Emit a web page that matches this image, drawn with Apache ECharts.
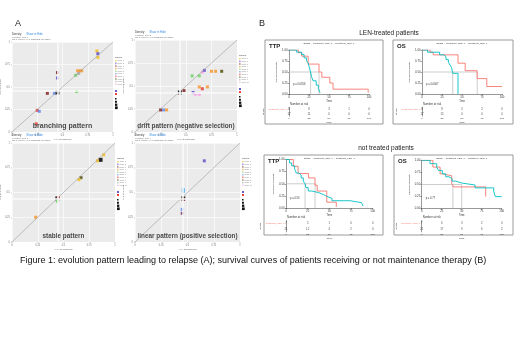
<!DOCTYPE html>
<html>
<head>
<meta charset="utf-8">
<script src="https://cdn.jsdelivr.net/npm/echarts@6/dist/echarts.min.js"></script>
<style>
  html, body { margin: 0; padding: 0; background: #fff; }
  #chart { width: 520px; height: 347px; }
</style>
</head>
<body>
<div id="chart"></div>
<script>
// ---- panel A : clone fraction at diagnosis (x) vs relapse (y) ----
var branchX = [0.84, 0.85, 0.85, 0.45, 0.45, 0.65, 0.67, 0.69, 0.63, 0.66, 0.35, 0.42, 0.45, 0.64, 0.25, 0.27, 0.24];
var branchY = [0.90, 0.87, 0.83, 0.66, 0.60, 0.68, 0.68, 0.68, 0.63, 0.65, 0.43, 0.43, 0.44, 0.45, 0.24, 0.23, 0.09];
var branchClone = ['c1', 'c2', 'c1', 'c3', 'c2', 'c4', 'c4', 'c4', 'c5', 'c9', 'c3', 'c6', 'c0', 'c5', 'c7', 'c6', 'c7'];

var driftX = [0.85, 0.75, 0.79, 0.66, 0.68, 0.63, 0.56, 0.44, 0.48, 0.57, 0.63, 0.71, 0.66, 0.63, 0.59, 0.25, 0.28, 0.31];
var driftY = [0.66, 0.66, 0.66, 0.65, 0.67, 0.61, 0.61, 0.43, 0.45, 0.43, 0.49, 0.49, 0.47, 0.41, 0.41, 0.24, 0.24, 0.24];
var driftClone = ['c8', 'c4', 'c4', 'c10', 'c2', 'c5', 'c5', 'c0', 'c3', 'c2', 'c4', 'c4', 'c7', 'c10', 'c10', 'c3', 'c6', 'c4'];

var stableX = [0.89, 0.86, 0.83, 0.67, 0.65, 0.44, 0.45, 0.44, 0.23];
var stableY = [0.88, 0.83, 0.82, 0.65, 0.63, 0.44, 0.45, 0.41, 0.25];
var stableClone = ['c1', 'c0', 'c1', 'c8', 'c1', 'c0', 'c7', 'c5', 'c4'];

var linearX = [0.66, 0.46, 0.46, 0.46, 0.46, 0.45, 0.45];
var linearY = [0.82, 0.53, 0.51, 0.44, 0.43, 0.33, 0.29];
var linearClone = ['c2', 'c11', 'c11', 'c0', 'c3', 'c6', 'c12'];

var refX = [0.45, 0.44, 0.44, 0.45];
var refY = [0.46, 0.43, 0.44, 0.44];
var patternNames = ['branching pattern', 'drift pattern (negative selection)', 'stable pattern', 'linear pattern (positive selection)'];

// ---- panel B : Kaplan-Meier curves (time, survival) ----
var timeTicks = [0, 25, 50, 75, 100];
var strataNames = ['treatment_LEN=0', 'treatment_LEN=1'];

var ttpLenT0 = [0, 11.7, 15.8, 24, 37.5, 41, 51, 55, 99];
var ttpLenS0 = [1, 0.94, 0.86, 0.68, 0.5, 0.38, 0.25, 0.11, 0.03];
var ttpLenT1 = [0, 9.6, 15.8, 18.8, 22, 24, 25.4, 27, 28, 30, 34, 36.7, 38.8];
var ttpLenS1 = [1, 0.95, 0.9, 0.82, 0.75, 0.7, 0.6, 0.5, 0.4, 0.3, 0.2, 0.12, 0.03];
var ttpLenMed = [27, 37.5];
var ttpLenRisk0 = [8, 8, 3, 1, 0];
var ttpLenRisk1 = [17, 11, 0, 0, 0];

var osLenT0 = [0, 10, 14, 45, 54, 69, 81, 100];
var osLenS0 = [1, 0.95, 0.89, 0.7, 0.53, 0.35, 0.17, 0.17];
var osLenT1 = [0, 7, 22, 27, 30, 33, 35, 37, 38.4, 45];
var osLenS1 = [1, 0.95, 0.89, 0.85, 0.78, 0.72, 0.66, 0.6, 0.47, 0];
var osLenMed = [38.4, 69];
var osLenRisk0 = [8, 8, 5, 2, 0];
var osLenRisk1 = [17, 15, 0, 0, 0];

var ttpNtT0 = [0, 8.5, 14, 26, 33.5, 36, 47, 58];
var ttpNtS0 = [1, 0.86, 0.71, 0.62, 0.47, 0.35, 0.12, 0.02];
var ttpNtT1 = [0, 4, 6.5, 10, 12, 15, 17.5, 20, 22, 23, 25.6, 29.6, 37, 43, 47, 53, 74, 87, 89];
var ttpNtS1 = [1, 0.93, 0.87, 0.8, 0.72, 0.68, 0.62, 0.55, 0.5, 0.42, 0.35, 0.32, 0.28, 0.24, 0.2, 0.15, 0.11, 0.07, 0.04];
var ttpNtMed = [22, 33.5];
var ttpNtRisk0 = [7, 5, 1, 0, 0];
var ttpNtRisk1 = [21, 12, 4, 2, 0];

var osNtT0 = [0, 14, 23, 26, 37.5, 39.6, 80];
var osNtS0 = [1, 0.86, 0.72, 0.68, 0.52, 0.45, 0.25];
var osNtT1 = [0, 10.4, 18.8, 21, 25.8, 30, 34, 38, 42.5, 50, 66.7, 90, 92, 100];
var osNtS1 = [1, 0.93, 0.86, 0.79, 0.72, 0.66, 0.62, 0.57, 0.53, 0.49, 0.43, 0.36, 0.25, 0.25];
var osNtMed = [39, 50];
var osNtRisk0 = [7, 6, 3, 2, 0];
var osNtRisk1 = [21, 17, 9, 6, 2];

var pValues = ['p = 0.0356', 'p = 0.0067', 'p = 0.59', 'p = 0.77'];

var cloneColors = {
  c0: '#111111', c1: '#F2C12E', c2: '#6A5ACD', c3: '#8B2E2E', c4: '#F59C3C', c5: '#76D66F',
  c6: '#6C8EE6', c7: '#E8453C', c8: '#5A5A1E', c9: '#B0B0B0', c10: '#F4A6E6', c11: '#4FB3F5', c12: '#7D3C6B'
};
var RED = '#F8766D', CYAN = '#00BFC4';
var FONT = 'Liberation Sans';

var chart = echarts.init(document.getElementById('chart'), null, { renderer: 'canvas' });

var grids = [], xAxes = [], yAxes = [], series = [], graphics = [];
var tiny = 2.8;

// centred text helper (x,y = centre point)
function ctext(x, y, text, size, extra) {
  return { type: 'text', x: x, y: y, silent: true, z: 100,
    style: Object.assign({ text: text, fontSize: size, fill: '#222', fontFamily: FONT, align: 'center', verticalAlign: 'middle' }, extra || {}) };
}
function ltext(x, y, text, size, extra) {
  return { type: 'text', x: x, y: y, silent: true, z: 100,
    style: Object.assign({ text: text, fontSize: size, fill: '#333', fontFamily: FONT, align: 'left', verticalAlign: 'middle' }, extra || {}) };
}

// scatter panels
var scatterBoxes = [
  { left: 12, top: 42, width: 101, height: 90, label: 7 },
  { left: 135, top: 40, width: 102, height: 92, label: 6.4 },
  { left: 12, top: 143, width: 103, height: 99, label: 6.4 },
  { left: 135, top: 143, width: 105, height: 99, label: 6.4 }
];
var scatterData = [[branchX, branchY, branchClone], [driftX, driftY, driftClone], [stableX, stableY, stableClone], [linearX, linearY, linearClone]];

scatterBoxes.forEach(function (b, i) {
  var gi = grids.length;
  grids.push({ left: b.left, top: b.top, width: b.width, height: b.height, show: true,
    backgroundColor: '#EBEBEB', borderWidth: 0, outerBoundsMode: 'none' });
  var ax = {
    gridIndex: gi, type: 'value', min: 0, max: 1, interval: 0.25,
    axisLine: { show: false }, axisTick: { show: true, length: 1, lineStyle: { color: '#777', width: 0.4 } },
    axisLabel: { fontSize: 2.6, color: '#777', margin: 2 },
    splitLine: { show: true, lineStyle: { color: '#fff', width: 0.6 } }
  };
  xAxes.push(Object.assign({}, ax, { name: 'VAF at diagnosis', nameLocation: 'middle', nameGap: 5, nameTextStyle: { fontSize: 2.4, color: '#666' } }));
  yAxes.push(Object.assign({}, ax, { name: 'VAF at relapse', nameLocation: 'middle', nameGap: 6, nameTextStyle: { fontSize: 2.4, color: '#666' } }));

  series.push({
    type: 'line', xAxisIndex: gi, yAxisIndex: gi, data: [[0, 0], [1, 1]], symbol: 'none', silent: true,
    lineStyle: { color: '#9a9a9a', width: 0.6 },
    markLine: { silent: true, symbol: 'none', label: { show: false },
      lineStyle: { color: '#fafafa', width: 1.6, type: 'solid' },
      data: [{ xAxis: refX[i] }, { yAxis: refY[i] }] }
  });
  var xs = scatterData[i][0], ys = scatterData[i][1], cl = scatterData[i][2];
  series.push({
    type: 'scatter', xAxisIndex: gi, yAxisIndex: gi, symbol: 'rect',
    symbolSize: function (v, p) { return cl[p.dataIndex] === 'c0' ? 4 : 3; },
    data: xs.map(function (x, k) {
      return { value: [x, ys[k]], itemStyle: { color: cloneColors[cl[k]], opacity: 0.9 } };
    })
  });

  // pattern caption
  graphics.push(ctext(b.left + b.width / 2, b.top + b.height - 6, patternNames[i], b.label,
    { fontWeight: 'bold', fill: '#4a4a4a' }));
  // header lines
  graphics.push(ltext(b.left, b.top - 8, '{a|Density}      {b|Show in Hide}', 3,
    { rich: { a: { fontSize: 2.8, fill: '#333' }, b: { fontSize: 2.8, fill: '#3a8ee6' } } }));
  graphics.push(ltext(b.left, b.top - 3.5, 'evolution_plot_' + (i + 1) + '\nMC 1 (77.5%) VAF diagnosis vs relapse', 2.2,
    { fill: '#666', lineHeight: 2.6 }));
  // tiny legend
  var lx = b.left + b.width + 2, ly = b.top + 18;
  var keys = ['c1', 'c2', 'c3', 'c4', 'c5', 'c6', 'c7', 'c8', 'c9', 'c10'];
  graphics.push(ltext(lx, ly - 3, 'clones', 2.4));
  keys.forEach(function (k, j) {
    graphics.push({ type: 'rect', silent: true, shape: { x: lx, y: ly + j * 2.6, width: 1.6, height: 1.6 }, style: { fill: cloneColors[k], opacity: 0.6 } });
    graphics.push(ltext(lx + 2.4, ly + j * 2.6 + 0.8, 'clone ' + (j + 1), 2, { fill: '#888' }));
  });
  graphics.push({ type: 'rect', silent: true, shape: { x: lx, y: ly + 30, width: 2, height: 2 }, style: { fill: '#6A5ACD' } });
  graphics.push({ type: 'rect', silent: true, shape: { x: lx, y: ly + 33, width: 2, height: 2 }, style: { fill: '#E8453C' } });
  for (var s = 0; s < 4; s++) {
    graphics.push({ type: 'rect', silent: true, shape: { x: lx, y: ly + 38 + s * 2.8, width: 1.5 + s * 0.4, height: 1.5 + s * 0.4 }, style: { fill: '#111' } });
  }
});

// Kaplan-Meier panels
function steps(t, s) { return t.map(function (x, k) { return [x, s[k]]; }); }
var kmPanels = [
  { box: [265, 40, 118, 84], plot: [289, 50, 80, 44], risk: [289, 107.5, 80, 8.6], name: 'TTP',
    c0: steps(ttpLenT0, ttpLenS0), c1: steps(ttpLenT1, ttpLenS1), med: ttpLenMed, r0: ttpLenRisk0, r1: ttpLenRisk1, p: pValues[0] },
  { box: [393, 40, 120, 84], plot: [422, 50, 80, 44], risk: [422, 107.5, 80, 8.6], name: 'OS',
    c0: steps(osLenT0, osLenS0), c1: steps(osLenT1, osLenS1), med: osLenMed, r0: osLenRisk0, r1: osLenRisk1, p: pValues[1] },
  { box: [264, 155, 119, 80], plot: [286, 159.5, 86.7, 48.5], risk: [286, 220.5, 86.7, 11.4], name: 'TTP',
    c0: steps(ttpNtT0, ttpNtS0), c1: steps(ttpNtT1, ttpNtS1), med: ttpNtMed, r0: ttpNtRisk0, r1: ttpNtRisk1, p: pValues[2] },
  { box: [394, 155, 119, 80], plot: [421.7, 160.3, 80, 48.4], risk: [421.7, 220.5, 80, 11.4], name: 'OS',
    c0: steps(osNtT0, osNtS0), c1: steps(osNtT1, osNtS1), med: osNtMed, r0: osNtRisk0, r1: osNtRisk1, p: pValues[3] }
];

kmPanels.forEach(function (k) {
  graphics.push({ type: 'rect', silent: true, shape: { x: k.box[0], y: k.box[1], width: k.box[2], height: k.box[3] },
    style: { fill: 'none', stroke: '#9a9a9a', lineWidth: 1 } });
  graphics.push(ltext(k.box[0] + 4, k.box[1] + 6, k.name, 6, { fontWeight: 'bold', fill: '#222' }));
  graphics.push(ctext(k.plot[0] + k.plot[2] / 2, k.box[1] + 3, '{a|Strata}  {r|+} {a|' + strataNames[0] + '}  {c|+} {a|' + strataNames[1] + '}', 2.4,
    { rich: { a: { fontSize: 2.4, fill: '#333' }, r: { fontSize: 2.4, fill: RED }, c: { fontSize: 2.4, fill: CYAN } } }));
  graphics.push(ltext(k.plot[0] + 4, k.plot[1] + k.plot[3] * 0.79, k.p, 2.6));
  graphics.push(ltext(k.plot[0] + 1, k.risk[1] - 3, 'Number at risk', 2.8));

  // survival curve grid
  var gi = grids.length;
  grids.push({ left: k.plot[0], top: k.plot[1], width: k.plot[2], height: k.plot[3], outerBoundsMode: 'none' });
  xAxes.push({ gridIndex: gi, type: 'value', min: 0, max: 100, interval: 25,
    name: 'Time', nameLocation: 'middle', nameGap: 5, nameTextStyle: { fontSize: 2.6, color: '#333' },
    axisLine: { lineStyle: { color: '#333', width: 0.5 } }, axisTick: { length: 1.2, lineStyle: { width: 0.5 } },
    axisLabel: { fontSize: tiny, color: '#333', margin: 1.5 }, splitLine: { show: false } });
  yAxes.push({ gridIndex: gi, type: 'value', min: 0, max: 1, interval: 0.25,
    name: 'Survival probability', nameLocation: 'middle', nameGap: 9, nameTextStyle: { fontSize: 2.5, color: '#333' },
    axisLine: { show: true, lineStyle: { color: '#333', width: 0.5 } }, axisTick: { show: true, length: 1.2, lineStyle: { width: 0.5 } },
    axisLabel: { fontSize: tiny, color: '#333', margin: 1.5, formatter: function (v) { return v.toFixed(2); } },
    splitLine: { show: false } });

  var medLine = [[0, 0.5], [Math.max(k.med[0], k.med[1]), 0.5]];
  series.push({ type: 'line', xAxisIndex: gi, yAxisIndex: gi, data: medLine, symbol: 'none', silent: true,
    lineStyle: { color: '#b8b8b8', width: 0.7 } });
  k.med.forEach(function (m) {
    series.push({ type: 'line', xAxisIndex: gi, yAxisIndex: gi, data: [[m, 0.5], [m, 0]], symbol: 'none', silent: true,
      lineStyle: { color: '#b8b8b8', width: 0.7 } });
  });
  series.push({ type: 'line', step: 'end', xAxisIndex: gi, yAxisIndex: gi, data: k.c0, symbol: 'none',
    lineStyle: { color: RED, width: 0.9 } });
  series.push({ type: 'line', step: 'end', xAxisIndex: gi, yAxisIndex: gi, data: k.c1, symbol: 'none',
    lineStyle: { color: CYAN, width: 0.9 } });

  // risk table grid
  var ri = grids.length;
  grids.push({ left: k.risk[0], top: k.risk[1], width: k.risk[2], height: k.risk[3], outerBoundsMode: 'none' });
  xAxes.push({ gridIndex: ri, type: 'value', min: 0, max: 100, interval: 25,
    name: 'Time', nameLocation: 'middle', nameGap: 4.5, nameTextStyle: { fontSize: 2.5, color: '#333' },
    axisLine: { lineStyle: { color: '#333', width: 0.5 } }, axisTick: { length: 1.2, lineStyle: { width: 0.5 } },
    axisLabel: { fontSize: 2.5, color: '#333', margin: 1.2 }, splitLine: { show: false } });
  yAxes.push({ gridIndex: ri, type: 'category', data: strataNames, inverse: true,
    name: 'Strata', nameLocation: 'middle', nameGap: 19, nameTextStyle: { fontSize: 2.4, color: '#333' },
    axisLine: { show: true, lineStyle: { color: '#333', width: 0.5 } }, axisTick: { show: false },
    axisLabel: { fontSize: 2.4, margin: 1.5, color: function (v, idx) { return idx === 0 ? RED : CYAN; } } });
  series.push({ type: 'scatter', xAxisIndex: ri, yAxisIndex: ri, symbolSize: 0, silent: true,
    label: { show: true, position: 'inside', fontSize: 2.8, color: '#222', formatter: function (p) { return p.value[2]; } },
    data: timeTicks.map(function (t, j) { return [t, strataNames[0], k.r0[j]]; })
      .concat(timeTicks.map(function (t, j) { return [t, strataNames[1], k.r1[j]]; })) });
});

// headings and caption
graphics.push(ctext(18, 24, 'A', 9));
graphics.push(ctext(262, 24, 'B', 9));
graphics.push(ctext(389, 33, 'LEN-treated patients', 6.5));
graphics.push(ctext(386, 148, 'not treated patients', 6.5));
graphics.push(ltext(20, 261, 'Figure 1: evolution pattern leading to relapse (A); survival curves of patients receiving or not maintenance therapy (B)',
  9, { fill: '#111' }));

chart.setOption({
  animation: false,
  backgroundColor: '#fff',
  grid: grids,
  xAxis: xAxes,
  yAxis: yAxes,
  series: series,
  graphic: graphics
});
</script>
</body>
</html>
